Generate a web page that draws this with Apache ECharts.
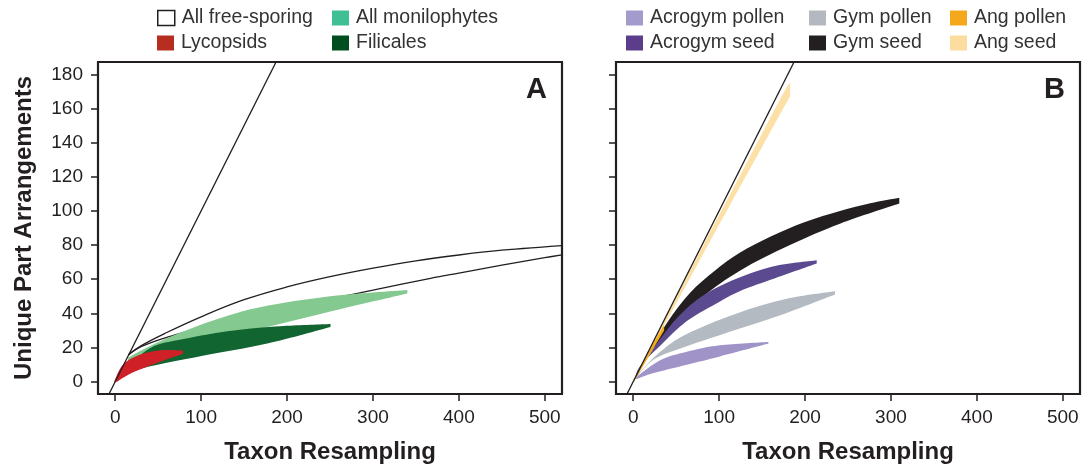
<!DOCTYPE html>
<html>
<head>
<meta charset="utf-8">
<script src="https://cdn.jsdelivr.net/npm/echarts@6/dist/echarts.min.js"></script>
<style>
html, body { margin: 0; padding: 0; background: #fff; }
#chart { width: 1085px; height: 470px; }
</style>
</head>
<body>
<div id="chart"></div>
<script>
// axis ticks
const xTicks = [0, 100, 200, 300, 400, 500];
const yTicks = [0, 20, 40, 60, 80, 100, 120, 140, 160, 180];

// 1:1 line (both panels)
const oneToOne = [[-20, -20], [200, 200]];

// panel A - all free-sporing envelope (outline only)
const freeSporingUpper = [[15.5, 15.8], [30, 21], [60, 28.8], [100, 38], [150, 48], [200, 55.5], [250, 61.5], [300, 66.5], [350, 70.8], [400, 74.2], [450, 77], [500, 79], [520, 79.7]];
const freeSporingLower = [[15.5, 15.8], [30, 20.5], [60, 26], [100, 31.5], [150, 38], [200, 43.5], [250, 48.5], [300, 53.6], [367, 60.5], [400, 63.6], [450, 68.2], [500, 72.6], [520, 74.3]];

// panel A bands: upper edge left->right, lower edge right->left
const monilophytesUpper = [[15, 14], [33, 19], [60, 25.5], [95, 32.5], [130, 38.5], [170, 43.8], [250, 50], [340, 53.7]];
const monilophytesLower = [[340, 51.6], [254, 41.5], [177, 32], [99, 22.5], [40, 15], [15, 12]];
const filicalesUpper = [[3, 3], [40, 19.5], [79.6, 25], [138, 30], [196, 32.6], [250.6, 33.8]];
const filicalesLower = [[250.6, 32], [177, 22.3], [99, 14.9], [40.8, 9], [5.8, 4.1]];
const lycopsidsUpper = [[-1.5, -0.5], [5, 7], [13.6, 12], [33, 16.5], [56, 18.5], [79, 18.2]];
const lycopsidsLower = [[79, 16.4], [48.6, 11], [21, 5.5], [2, 0]];

// panel B bands
const acrogymPollenUpper = [[2, 2], [31.4, 12.5], [62.4, 17.5], [101, 21.3], [157.4, 23.2]];
const acrogymPollenLower = [[157.4, 22.3], [101, 14.8], [62.4, 10], [23.6, 5.1], [4.3, 1.6]];
const gymPollenUpper = [[3, 3], [31.4, 17.5], [62.4, 28], [120.6, 40], [178.7, 48.5], [234.9, 52.9]];
const gymPollenLower = [[234.9, 51], [178.7, 40.3], [120.6, 30.5], [62.4, 20.7], [23.6, 12.9], [3, 2]];
const gymSeedUpper = [[2, 2], [20, 18], [40, 35], [66, 52], [95, 65], [124, 75.5], [160, 85], [200, 93.5], [240.6, 100], [276, 104.5], [309.7, 107.7]];
const gymSeedLower = [[309.7, 104.3], [240.6, 92.5], [182.4, 80], [124.2, 65], [81.8, 50], [43, 31], [16, 14], [2, 1.5]];
const acrogymSeedUpper = [[2, 2], [31.4, 25], [62.4, 43], [101, 56], [159, 67], [213.6, 71.1]];
const acrogymSeedLower = [[213.6, 69.2], [159, 59.5], [124, 53], [101, 47], [62.4, 35.5], [31.4, 21], [8, 9], [2, 1.5]];
const angSeedUpper = [[1, 1], [40, 39.5], [80, 78.5], [130, 126], [177, 171], [182.6, 172.7]];
const angSeedLower = [[182.6, 167.2], [150, 137.5], [122.5, 112.5], [80, 73.5], [40, 36.5], [1, 0.5]];
const angPollenUpper = [[0, 0.5], [20, 19.5], [36, 33]];
const angPollenLower = [[36, 30], [20, 16.5], [1, 0]];

const ink = '#231f20';
const font = '"Liberation Sans", Arial, sans-serif';

const chart = echarts.init(document.getElementById('chart'), null, { renderer: 'canvas' });

// catmull-rom through pixel points -> bezier segments (drawing only)
function curveSegs(p) {
    let s = '';
    for (let i = 0; i < p.length - 1; i++) {
        const p0 = p[i - 1] || p[i], p1 = p[i], p2 = p[i + 1], p3 = p[i + 2] || p2;
        const c1 = [p1[0] + (p2[0] - p0[0]) / 6, p1[1] + (p2[1] - p0[1]) / 6];
        const c2 = [p2[0] - (p3[0] - p1[0]) / 6, p2[1] - (p3[1] - p1[1]) / 6];
        s += ' C' + c1[0] + ',' + c1[1] + ' ' + c2[0] + ',' + c2[1] + ' ' + p2[0] + ',' + p2[1];
    }
    return s;
}

function band(name, idx, upper, lower, color) {
    return {
        name: name,
        type: 'custom',
        xAxisIndex: idx,
        yAxisIndex: idx,
        itemStyle: { color: color },
        data: [[0, 0]],
        silent: true,
        renderItem: function (params, api) {
            const up = upper.map(function (p) { return api.coord(p); });
            const lo = lower.map(function (p) { return api.coord(p); });
            const d = 'M' + up[0][0] + ',' + up[0][1] + curveSegs(up) +
                ' L' + lo[0][0] + ',' + lo[0][1] + curveSegs(lo) + ' Z';
            return {
                type: 'path',
                shape: { pathData: d },
                style: { fill: color }
            };
        }
    };
}

function curve(name, idx, data, z) {
    return {
        name: name,
        type: 'line',
        xAxisIndex: idx,
        yAxisIndex: idx,
        data: data,
        smooth: 0.4,
        showSymbol: false,
        silent: true,
        z: z,
        itemStyle: { color: ink },
        lineStyle: { color: ink, width: 1.3 }
    };
}

function legendItem(name, left, top, style) {
    return {
        data: [{ name: name, icon: 'rect', itemStyle: style }],
        left: left,
        top: top,
        padding: 0,
        itemWidth: 17,
        itemHeight: 15,
        selectedMode: false,
        textStyle: { fontSize: 19.5, color: '#333', fontFamily: font, padding: [0, 0, 0, 2] }
    };
}

function xAx(idx) {
    return {
        gridIndex: idx,
        type: 'value',
        min: -20,
        max: 520,
        axisLine: { show: false, onZero: false },
        axisTick: { customValues: xTicks, length: 7, lineStyle: { color: ink, width: 1.5 } },
        axisLabel: { customValues: xTicks, margin: 14, fontSize: 19, color: ink, fontFamily: font },
        splitLine: { show: false },
        name: 'Taxon Resampling',
        nameLocation: 'middle',
        nameGap: 46,
        nameTextStyle: { fontSize: 24, fontWeight: 'bold', color: ink, fontFamily: font }
    };
}

function yAx(idx, labels) {
    const ax = {
        gridIndex: idx,
        type: 'value',
        min: -7.2,
        max: 187.2,
        axisLine: { show: false, onZero: false },
        axisTick: { customValues: yTicks, length: 7, lineStyle: { color: ink, width: 1.5 } },
        axisLabel: { show: labels, customValues: yTicks, margin: 15, fontSize: 19, color: ink, fontFamily: font },
        splitLine: { show: false }
    };
    if (labels) {
        ax.name = 'Unique Part Arrangements';
        ax.nameLocation = 'middle';
        ax.nameGap = 62;
        ax.nameTextStyle = { fontSize: 24, fontWeight: 'bold', color: ink, fontFamily: font };
    }
    return ax;
}

const option = {
    animation: false,
    backgroundColor: '#fff',
    title: [
        { text: 'A', left: 526, top: 75, padding: 0, textStyle: { fontSize: 29, fontWeight: 'bold', color: ink, fontFamily: font } },
        { text: 'B', left: 1044, top: 75, padding: 0, textStyle: { fontSize: 29, fontWeight: 'bold', color: ink, fontFamily: font } }
    ],
    legend: [
        legendItem('All free-sporing', 157, 8, { color: '#fff', borderColor: ink, borderWidth: 1.5 }),
        legendItem('All monilophytes', 332, 8, { color: '#3fbf94' }),
        legendItem('Lycopsids', 157, 33, { color: '#b72d1f' }),
        legendItem('Filicales', 332, 33, { color: '#004d20' }),
        legendItem('Acrogym pollen', 626, 8, { color: '#a39bcb' }),
        legendItem('Gym pollen', 809, 8, { color: '#b4b9bf' }),
        legendItem('Ang pollen', 950, 8, { color: '#f6a81c' }),
        legendItem('Acrogym seed', 626, 33, { color: '#5b3d8c' }),
        legendItem('Gym seed', 809, 33, { color: ink }),
        legendItem('Ang seed', 950, 33, { color: '#fddca0' })
    ],
    grid: [
        { left: 98, top: 62, width: 464, height: 332, show: true, borderColor: ink, borderWidth: 2.2, backgroundColor: 'transparent' },
        { left: 616, top: 62, width: 464, height: 332, show: true, borderColor: ink, borderWidth: 2.2, backgroundColor: 'transparent' }
    ],
    xAxis: [xAx(0), xAx(1)],
    yAxis: [yAx(0, true), yAx(1, false)],
    series: [
        curve('All free-sporing', 0, freeSporingUpper, 1),
        curve('All free-sporing', 0, freeSporingLower, 1),
        band('All monilophytes', 0, monilophytesUpper, monilophytesLower, '#84c98f'),
        band('Filicales', 0, filicalesUpper, filicalesLower, '#116530'),
        band('Lycopsids', 0, lycopsidsUpper, lycopsidsLower, '#cf2027'),
        curve('All free-sporing', 0, oneToOne, 5),

        band('Acrogym pollen', 1, acrogymPollenUpper, acrogymPollenLower, '#9f93c7'),
        band('Gym pollen', 1, gymPollenUpper, gymPollenLower, '#b3bac1'),
        band('Gym seed', 1, gymSeedUpper, gymSeedLower, ink),
        band('Acrogym seed', 1, acrogymSeedUpper, acrogymSeedLower, '#5c4a91'),
        band('Ang seed', 1, angSeedUpper, angSeedLower, '#fde0a5'),
        band('Ang pollen', 1, angPollenUpper, angPollenLower, '#f7ab18'),
        curve('one to one', 1, oneToOne, 5)
    ]
};

chart.setOption(option);
</script>
</body>
</html>
